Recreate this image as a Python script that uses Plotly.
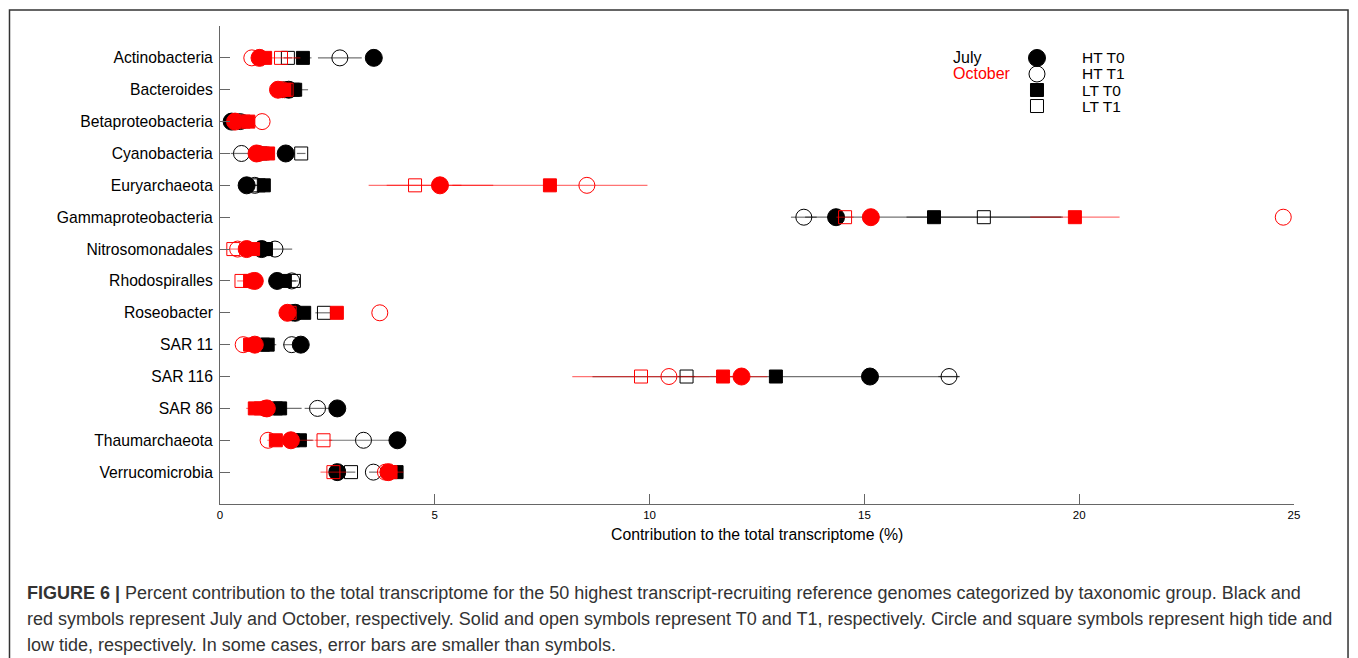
import plotly.graph_objects as go

categories = ["Actinobacteria", "Bacteroides", "Betaproteobacteria", "Cyanobacteria",
              "Euryarchaeota", "Gammaproteobacteria", "Nitrosomonadales", "Rhodospiralles",
              "Roseobacter", "SAR 11", "SAR 116", "SAR 86", "Thaumarchaeota", "Verrucomicrobia"]

# July (black)
jul_ht_t0 = [3.58, 1.60, 0.27, 1.53, 0.62, 14.34, 0.97, 1.33, 1.75, 1.88, 15.13, 2.73, 4.13, 2.73]
jul_ht_t1 = [2.79, 1.50, 0.47, 0.50, 0.81, 13.59, 1.28, 1.67, 1.68, 1.67, 16.97, 2.27, 3.34, 3.57]
jul_lt_t0 = [1.93, 1.75, 0.40, 0.95, 1.02, 16.62, 1.07, 1.51, 1.96, 1.11, 12.94, 1.40, 1.86, 4.11]
jul_lt_t1 = [1.58, 1.70, 0.45, 1.89, 0.90, 17.78, 1.00, 1.72, 2.42, 1.00, 10.86, 1.30, 1.70, 3.05]
# October (red)
oct_ht_t0 = [0.92, 1.35, 0.35, 0.85, 5.12, 15.15, 0.62, 0.81, 1.57, 0.81, 12.14, 1.09, 1.65, 3.92]
oct_ht_t1 = [0.74, 1.45, 0.98, 0.90, 8.54, 24.75, 0.41, 0.75, 3.72, 0.54, 10.45, 1.05, 1.12, 3.85]
oct_lt_t0 = [1.05, 1.50, 0.66, 1.12, 7.68, 19.90, 0.77, 0.70, 2.72, 0.70, 11.71, 0.81, 1.30, 3.97]
oct_lt_t1 = [1.42, 1.55, 0.55, 1.00, 4.54, 14.55, 0.31, 0.50, 1.62, 0.75, 9.80, 0.95, 2.41, 2.64]

# error bars (standard deviation)
jul_ht_t0_err = [0.10, 0.10, 0.05, 0.10, 0.10, 0.20, 0.10, 0.10, 0.10, 0.10, 0.20, 0.10, 0.10, 0.10]
jul_ht_t1_err = [0.51, 0.10, 0.10, 0.25, 0.10, 0.30, 0.40, 0.10, 0.10, 0.20, 0.25, 0.30, 0.80, 0.10]
jul_lt_t0_err = [0.20, 0.30, 0.10, 0.10, 0.10, 3.00, 0.10, 0.10, 0.15, 0.20, 4.27, 0.50, 0.30, 0.10]
jul_lt_t1_err = [0.10, 0.10, 0.10, 0.10, 0.10, 1.80, 0.10, 0.10, 0.20, 0.10, 0.20, 0.10, 0.10, 0.10]
oct_ht_t0_err = [0.20, 0.15, 0.10, 0.20, 1.24, 0.20, 0.10, 0.10, 0.10, 0.10, 0.60, 0.20, 0.55, 0.10]
oct_ht_t1_err = [0.00, 0.00, 0.00, 0.00, 0.00, 0.00, 0.00, 0.00, 0.00, 0.00, 0.00, 0.00, 0.00, 0.00]
oct_lt_t0_err = [0.10, 0.10, 0.10, 0.10, 2.27, 1.04, 0.10, 0.10, 0.15, 0.10, 0.30, 0.20, 0.15, 0.30]
oct_lt_t1_err = [0.45, 0.10, 0.10, 0.10, 1.08, 0.20, 0.10, 0.10, 0.15, 0.15, 1.60, 0.10, 0.20, 0.30]

x_ticks = [0, 5, 10, 15, 20, 25]
legend_months = ["July", "October"]
legend_labels = ["HT T0", "HT T1", "LT T0", "LT T1"]

ypos = list(range(1, len(categories) + 1))

BLACK = "#000000"
RED = "#ff0000"
BLACK_ERR = "rgba(0,0,0,0.55)"
RED_ERR = "rgba(255,0,0,0.55)"

series = [
    (jul_ht_t0, jul_ht_t0_err, BLACK, BLACK_ERR, "circle", 17),
    (jul_ht_t1, jul_ht_t1_err, BLACK, BLACK_ERR, "circle-open", 16),
    (jul_lt_t0, jul_lt_t0_err, BLACK, BLACK_ERR, "square", 13),
    (jul_lt_t1, jul_lt_t1_err, BLACK, BLACK_ERR, "square-open", 13),
    (oct_lt_t1, oct_lt_t1_err, RED, RED_ERR, "square-open", 13),
    (oct_ht_t1, oct_ht_t1_err, RED, RED_ERR, "circle-open", 16),
    (oct_lt_t0, oct_lt_t0_err, RED, RED_ERR, "square", 13),
    (oct_ht_t0, oct_ht_t0_err, RED, RED_ERR, "circle", 17),
]

fig = go.Figure()
for vals, errs, col, ecol, sym, size in series:
    fig.add_trace(go.Scatter(
        x=vals, y=ypos, mode="markers",
        marker=dict(symbol=sym, size=size, color=col,
                    line=dict(color=col, width=1)),
        error_x=dict(type="data", array=errs, visible=True, color=ecol,
                     thickness=1.2, width=0),
        showlegend=False, cliponaxis=False,
    ))

# custom legend (marker column) on overlay axes
leg_x = 0.7607
leg_y = [0.9331, 0.8996, 0.8661, 0.8326]
leg_sym = ["circle", "circle-open", "square", "square-open"]
leg_size = [17, 16, 13, 13]
for yy, sym, sz in zip(leg_y, leg_sym, leg_size):
    fig.add_trace(go.Scatter(
        x=[leg_x], y=[yy], mode="markers", xaxis="x2", yaxis="y2",
        marker=dict(symbol=sym, size=sz, color=BLACK, line=dict(color=BLACK, width=1)),
        showlegend=False, hoverinfo="skip", cliponaxis=False,
    ))

annotations = []
for name, col, yy in zip(legend_months, [BLACK, RED], leg_y[:2]):
    annotations.append(dict(x=0.6806, y=yy, xref="paper", yref="paper", text=name,
                            showarrow=False, xanchor="left", yanchor="middle",
                            font=dict(size=16, color=col)))
for lab, yy in zip(legend_labels, leg_y):
    annotations.append(dict(x=0.8007, y=yy, xref="paper", yref="paper", text=lab,
                            showarrow=False, xanchor="left", yanchor="middle",
                            font=dict(size=15.5, color=BLACK)))

caption_lines = [
    "<b>FIGURE 6 |</b> Percent contribution to the total transcriptome for the 50 highest transcript-recruiting reference genomes categorized by taxonomic group. Black and",
    "red symbols represent July and October, respectively. Solid and open symbols represent T0 and T1, respectively. Circle and square symbols represent high tide and",
    "low tide, respectively. In some cases, error bars are smaller than symbols.",
]
for line, yy in zip(caption_lines, [-0.1862, -0.2406, -0.2950]):
    annotations.append(dict(x=-0.1816, y=yy, xref="paper", yref="paper", text=line,
                            showarrow=False, xanchor="left", yanchor="middle",
                            font=dict(size=18.0, color="#333333")))

annotations.append(dict(x=0.5, y=-0.0648, xref="paper", yref="paper",
                        text="Contribution to the total transcriptome (%)",
                        showarrow=False, xanchor="center", yanchor="middle",
                        font=dict(size=15.8, color="#000000")))

fig.update_layout(
    width=1350, height=650,
    margin=dict(l=212, r=64, t=18, b=154),
    paper_bgcolor="white", plot_bgcolor="white",
    font=dict(family="Liberation Sans, Arial, sans-serif", color="black"),
    xaxis=dict(range=[0, 25], tickvals=x_ticks, ticks="inside", ticklen=10,
               tickcolor="#666666", showline=True, linecolor="#666666", linewidth=1,
               showgrid=False, zeroline=False, tickfont=dict(size=11.5), mirror=False),
    yaxis=dict(range=[15, 0], tickvals=[0] + ypos, ticktext=[""] + categories,
               ticks="inside", ticklen=10, tickcolor="#666666", showline=True,
               linecolor="#666666", linewidth=1, showgrid=False, zeroline=False,
               tickfont=dict(size=15.7), ticklabelstandoff=3),
    xaxis2=dict(range=[0, 1], overlaying="x", visible=False, fixedrange=True),
    yaxis2=dict(range=[0, 1], overlaying="y", visible=False, fixedrange=True),
    annotations=annotations,
    shapes=[dict(type="rect", xref="paper", yref="paper",
                 x0=-0.1960, x1=1.0503, y0=1.0335, y1=-0.40,
                 line=dict(color="#333333", width=1.5), fillcolor="rgba(0,0,0,0)",
                 layer="below")],
)

fig.write_html("out.html")
